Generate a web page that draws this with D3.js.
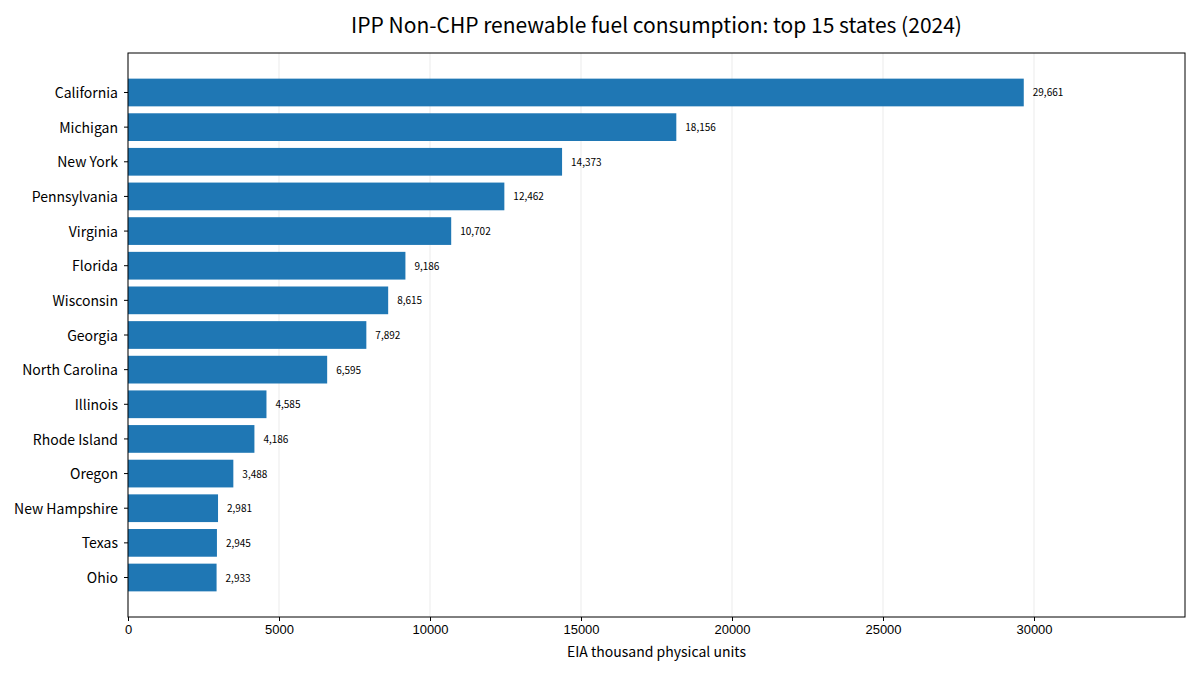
<!DOCTYPE html>
<html><head><meta charset="utf-8">
<script src="https://cdn.jsdelivr.net/npm/d3@7"></script>
<style>body{margin:0;background:#fff;}svg{display:block;font-family:"Noto Sans CJK JP","Noto Sans",sans-serif;}</style>
</head><body><svg id="c" width="1200" height="675"></svg>
<script>
const states = ["California","Michigan","New York","Pennsylvania","Virginia","Florida","Wisconsin","Georgia","North Carolina","Illinois","Rhode Island","Oregon","New Hampshire","Texas","Ohio"];
const values = [29661,18156,14373,12462,10702,9186,8615,7892,6595,4585,4186,3488,2981,2945,2933];
const xTicks = [0,5000,10000,15000,20000,25000,30000];
const titleText = "IPP Non-CHP renewable fuel consumption: top 15 states (2024)";
const xLabel = "EIA thousand physical units";

const svg = d3.select("#c");
const L=128,R=1185,T=53,B=617;
const x = d3.scaleLinear().domain([0, d3.max(values)*1.18]).range([L,R]);
const n = states.length;
const lo=-0.4, hi=n-1+0.4, pad=(hi-lo)*0.05;
const yi = d3.scaleLinear().domain([lo-pad, hi+pad]).range([T,B]);
const bh = yi(0.8)-yi(0);

svg.append("g").selectAll("line").data(xTicks).join("line")
  .attr("x1",d=>x(d)).attr("x2",d=>x(d)).attr("y1",T).attr("y2",B)
  .attr("stroke","#e6e6e6").attr("stroke-width",0.8);

svg.append("g").selectAll("rect").data(values).join("rect")
  .attr("x",x(0)).attr("y",(d,i)=>yi(i)-bh/2)
  .attr("width",d=>x(d)-x(0)).attr("height",bh).attr("fill","#1f77b4");

const fmt = d3.format(",");
svg.append("g").selectAll("text").data(values).join("text")
  .attr("x",d=>x(d)+9).attr("y",(d,i)=>yi(i)).attr("dy","0.4em")
  .attr("font-size",10).attr("fill","#000").text(d=>fmt(d));

svg.append("rect").attr("x",L).attr("y",T).attr("width",R-L).attr("height",B-T)
  .attr("fill","none").attr("stroke","#000").attr("stroke-width",1);

const xa = svg.append("g").attr("transform",`translate(0,${B})`)
  .call(d3.axisBottom(x).tickValues(xTicks).tickFormat(d3.format("d")).tickSize(4).tickPadding(4));
xa.select(".domain").remove();
xa.selectAll("text").attr("font-size",13).attr("fill","#000").style("font-family","inherit");

const ya = svg.append("g").attr("transform",`translate(${L},0)`);
states.forEach((s,i)=>{
  ya.append("line").attr("x1",-4).attr("x2",0).attr("y1",yi(i)).attr("y2",yi(i)).attr("stroke","#000");
  ya.append("text").attr("x",-10).attr("y",yi(i)).attr("dy","0.4em").attr("text-anchor","end")
    .attr("font-size",14).attr("fill","#000").text(s);
});

svg.append("text").attr("x",(L+R)/2).attr("y",33).attr("text-anchor","middle")
  .attr("font-size",21).attr("fill","#000").text(titleText);
svg.append("text").attr("x",(L+R)/2).attr("y",657).attr("text-anchor","middle")
  .attr("font-size",14).attr("fill","#000").text(xLabel);
</script></body></html>
